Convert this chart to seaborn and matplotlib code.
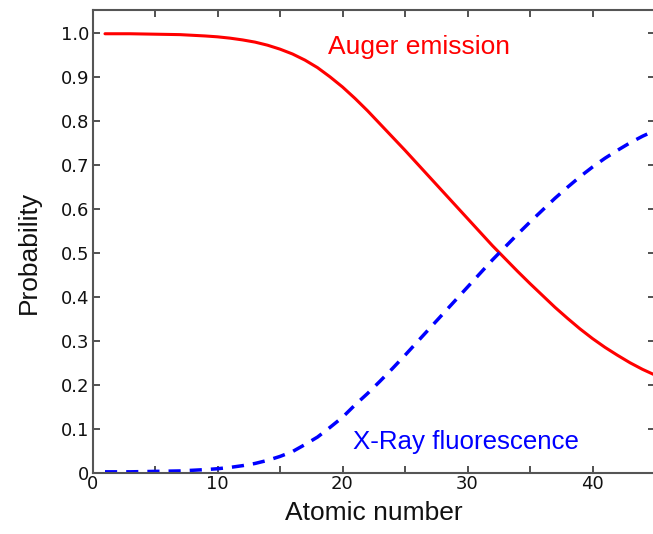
import matplotlib
matplotlib.use("Agg")
import matplotlib.pyplot as plt
import seaborn as sns
import pandas as pd
from matplotlib.ticker import MultipleLocator, FuncFormatter

atomic_number = [1, 3, 5, 7, 9, 10, 11, 12, 13, 14, 15, 16, 17, 18, 19, 20, 21, 22, 23, 24, 25,
                 26, 27, 28, 29, 30, 31, 32, 33, 34, 35, 36, 37, 38, 39, 40, 41, 42, 43, 44, 45]
auger = [0.998, 0.998, 0.997, 0.996, 0.993, 0.991, 0.988, 0.984, 0.979, 0.972, 0.963, 0.952,
         0.938, 0.921, 0.900, 0.877, 0.851, 0.823, 0.793, 0.763, 0.733, 0.702, 0.671, 0.640,
         0.609, 0.578, 0.547, 0.516, 0.487, 0.458, 0.430, 0.403, 0.376, 0.351, 0.327, 0.305,
         0.285, 0.267, 0.250, 0.235, 0.222]
xray = [0.002, 0.002, 0.003, 0.004, 0.007, 0.009, 0.012, 0.016, 0.021, 0.028, 0.037, 0.048,
        0.064, 0.081, 0.103, 0.126, 0.154, 0.180, 0.208, 0.237, 0.267, 0.298, 0.329, 0.360,
        0.391, 0.422, 0.453, 0.484, 0.513, 0.542, 0.570, 0.597, 0.624, 0.649, 0.673, 0.695,
        0.715, 0.733, 0.750, 0.765, 0.778]

df = pd.DataFrame({"Z": atomic_number, "auger": auger, "xray": xray})

sns.set_style("ticks")
plt.rcParams["font.family"] = ["DejaVu Sans"]

fig = plt.figure(figsize=(6.53, 5.34), dpi=100)
ax = fig.add_axes([92.5 / 653, 61.3 / 534, 562.5 / 653, 462.7 / 534])

sns.lineplot(data=df, x="Z", y="auger", ax=ax, color="#ff0000", linewidth=2.2)
sns.lineplot(data=df, x="Z", y="xray", ax=ax, color="#0000ff", linewidth=2.5,
             linestyle=(0, (3.5, 2.6)))

ax.set_xlim(0, 45)
ax.set_ylim(0, 1.052)
ax.xaxis.set_major_locator(MultipleLocator(10))
ax.xaxis.set_minor_locator(MultipleLocator(5))
ax.yaxis.set_major_locator(MultipleLocator(0.1))
ax.yaxis.set_major_formatter(FuncFormatter(lambda v, p: "0" if abs(v) < 1e-9 else f"{v:.1f}"))

for side in ["left", "right", "top", "bottom"]:
    ax.spines[side].set_color("#555555")
    ax.spines[side].set_linewidth(1.5)

ax.tick_params(which="both", direction="in", top=True, right=True, length=5, width=1.2,
               color="#333333", labelsize=13, labelcolor="#111111")
ax.tick_params(axis="x", pad=2)
ax.tick_params(axis="y", pad=2.5)

label_font = ["Liberation Sans", "DejaVu Sans"]
ax.set_xlabel("Atomic number", fontsize=19, color="#111111", family=label_font)
ax.set_ylabel("Probability", fontsize=19, color="#111111", family=label_font)
ax.xaxis.set_label_coords(0.5, -0.061)
ax.yaxis.set_label_coords(-0.0925, 0.477)

ax.text(18.86, 0.953, "Auger emission", color="#ff0000", fontsize=19, va="baseline",
        ha="left", family=label_font)
ax.text(20.86, 0.053, "X-Ray fluorescence", color="#0000ff", fontsize=18.6, va="baseline",
        ha="left", family=label_font)

fig.savefig("out.png", dpi=100)
